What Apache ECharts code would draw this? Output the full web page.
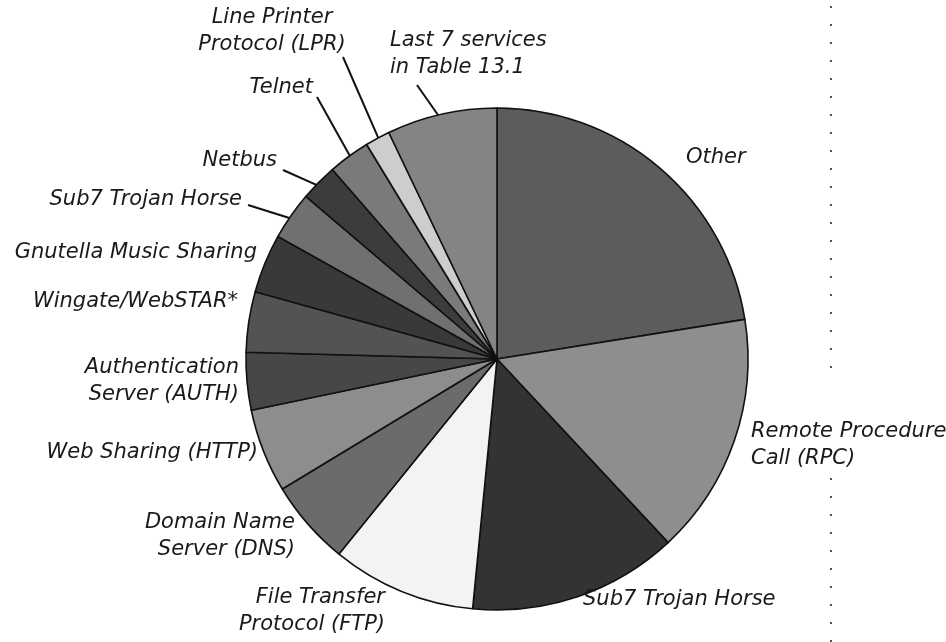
<!DOCTYPE html>
<html>
<head>
<meta charset="utf-8">
<title>Services probed</title>
<script src="https://cdn.jsdelivr.net/npm/echarts@6/dist/echarts.min.js"></script>
<style>
  html, body { margin: 0; padding: 0; background: #ffffff; }
  #chart { width: 946px; height: 642px; }
</style>
</head>
<body>
<div id="chart"></div>
<script>
// Slice names, clockwise from 12 o'clock
const services = [
  'Other',
  'Remote Procedure\nCall (RPC)',
  'Sub7 Trojan Horse',
  'File Transfer\nProtocol (FTP)',
  'Domain Name\nServer (DNS)',
  'Web Sharing (HTTP)',
  'Authentication\nServer (AUTH)',
  'Wingate/WebSTAR*',
  'Gnutella Music Sharing',
  'Sub7 Trojan Horse',
  'Netbus',
  'Telnet',
  'Line Printer\nProtocol (LPR)',
  'Last 7 services\nin Table 13.1'
];

// Share of traffic, percent
const shares = [22.5, 15.6, 13.5, 9.3, 5.5, 5.4, 3.7, 3.9, 3.8, 3.1, 2.4, 2.7, 1.6, 7.1];

// Grey fill for each slice
const shades = [
  '#5c5c5c', '#8e8e8e', '#333333', '#f3f3f3', '#6b6b6b', '#8d8d8d', '#474747',
  '#535353', '#393939', '#707070', '#3c3c3c', '#7a7a7a', '#cdcdcd', '#848484'
];

// Where each label sits: anchor point, text alignment, and (optional) leader start
const labelSpots = [
  { x: 686, y: 158, align: 'left' },
  { x: 751, y: 445, align: 'left' },
  { x: 583, y: 600, align: 'left' },
  { x: 385, y: 611, align: 'right' },
  { x: 295, y: 536, align: 'right' },
  { x: 258, y: 453, align: 'right' },
  { x: 239, y: 381, align: 'right' },
  { x: 238, y: 302, align: 'right' },
  { x: 257, y: 253, align: 'right' },
  { x: 242, y: 200, align: 'right', lead: [248, 205] },
  { x: 277, y: 161, align: 'right', lead: [283, 170] },
  { x: 313, y: 88,  align: 'right', lead: [317, 97] },
  { x: 272, y: 31,  align: 'center', lead: [343, 57] },
  { x: 390, y: 54,  align: 'left', lead: [417, 85] }
];

const CX = 497, CY = 359, R = 251;

// Mid-angle of every slice, in degrees clockwise from the top
const total = shares.reduce((a, b) => a + b, 0);
const midAngles = [];
(function () {
  let acc = 0;
  shares.forEach(v => {
    midAngles.push((acc + v / 2) / total * 360);
    acc += v;
  });
})();

function pointOnSlice(i, frac) {
  const t = midAngles[i] * Math.PI / 180;
  return [CX + R * frac * Math.sin(t), CY - R * frac * Math.cos(t)];
}

const chart = echarts.init(document.getElementById('chart'), null, { renderer: 'canvas' });

const data = services.map((name, i) => ({
  name: name,
  value: shares[i],
  itemStyle: { color: shades[i] },
  labelLine: { show: !!labelSpots[i].lead }
}));

// Dotted margin rule on the right
function dottedRule(y1, y2) {
  return {
    type: 'line',
    silent: true,
    shape: { x1: 831, y1: y1, x2: 831, y2: y2 },
    style: { stroke: '#555555', lineWidth: 2, lineDash: [2, 16] }
  };
}

chart.setOption({
  backgroundColor: '#ffffff',
  animation: false,
  graphic: [dottedRule(6, 372), dottedRule(478, 642)],
  series: [{
    type: 'pie',
    center: [CX, CY],
    radius: R,
    startAngle: 90,
    clockwise: true,
    avoidLabelOverlap: false,
    silent: true,
    data: data,
    itemStyle: { borderColor: '#111111', borderWidth: 1.6 },
    label: {
      show: true,
      position: 'outside',
      formatter: '{b}',
      fontFamily: '"DejaVu Sans", "Noto Sans", sans-serif',
      fontStyle: 'italic',
      fontSize: 21,
      lineHeight: 27,
      color: '#1a1a1a'
    },
    labelLine: {
      lineStyle: { color: '#111111', width: 2 },
      smooth: false
    },
    labelLayout: function (params) {
      const i = params.dataIndex;
      const s = labelSpots[i];
      const out = {
        x: s.x,
        y: s.y,
        align: s.align,
        verticalAlign: 'middle',
        hideOverlap: false,
        moveOverlap: null
      };
      if (s.lead) {
        const end = pointOnSlice(i, 0.965);
        out.labelLinePoints = [end, s.lead, s.lead];
      }
      return out;
    }
  }]
});
</script>
</body>
</html>
